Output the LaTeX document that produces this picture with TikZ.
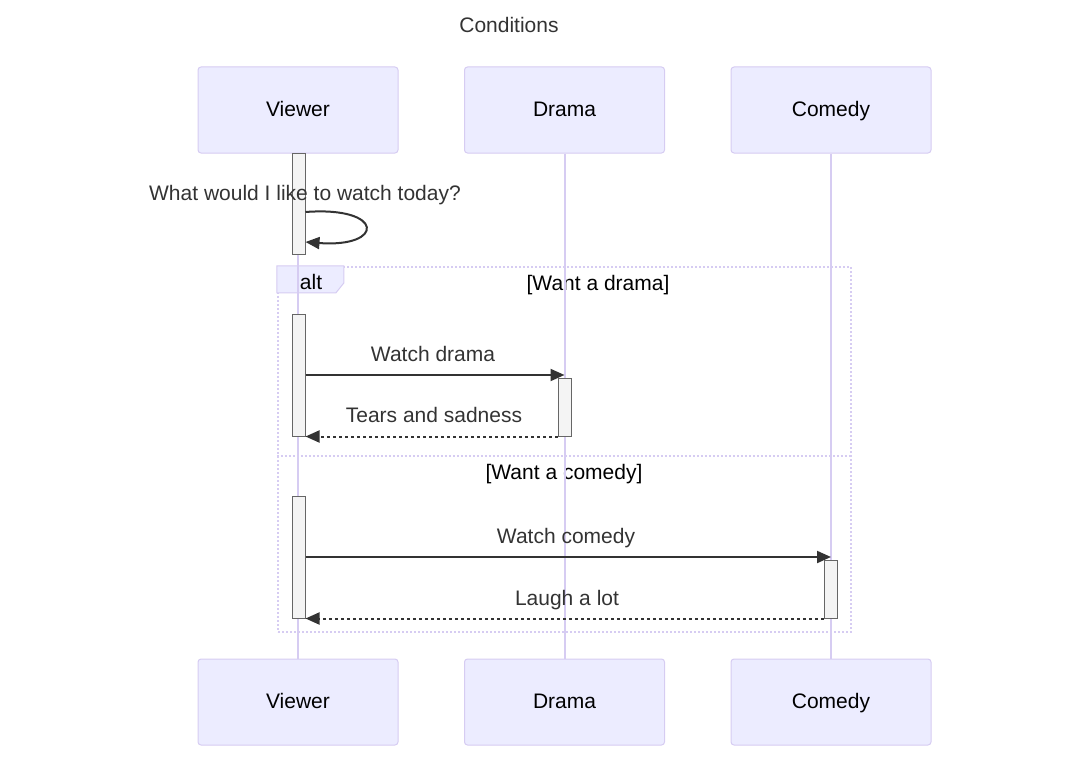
\documentclass[tikz,border=0pt]{standalone}
\usepackage{fontspec}
\setmainfont{Liberation Sans}
\usepackage{tikz}
\usetikzlibrary{arrows.meta,positioning,calc}

\definecolor{actfill}{HTML}{ECECFF}
\definecolor{actline}{HTML}{D6CCF2}
\definecolor{barfill}{HTML}{F4F4F4}
\definecolor{barline}{HTML}{666666}
\definecolor{msgcol}{HTML}{333333}
\newcommand{\seqfont}{\fontsize{21}{25}\selectfont}

\begin{document}
\begin{tikzpicture}[
    x=1pt, y=-1pt,
    actor/.style={rectangle, draw=actline, fill=actfill, rounded corners=3pt,
                  line width=1pt, minimum width=200pt, minimum height=86pt,
                  text height=15pt, text depth=2pt,
                  font=\seqfont, text=black},
    life/.style={draw=actline, line width=2pt},
    bar/.style={rectangle, draw=barline, fill=barfill, line width=1pt,
                minimum width=13pt, inner sep=0pt},
    msg/.style={draw=msgcol, line width=2pt,
                -{Triangle[length=14pt,width=12pt]}},
    reply/.style={msg, dash pattern=on 3pt off 3pt},
    altbox/.style={rectangle, draw=actline, line width=2.2pt,
                   dash pattern=on 2pt off 2pt, inner sep=0pt},
    altsep/.style={draw=actline, line width=2.2pt, dash pattern=on 2pt off 2pt},
    altlbl/.style={draw=actline, fill=actfill, line width=1pt},
    lbl/.style={font=\seqfont, text=msgcol, inner sep=0pt,
                text height=15pt, text depth=4pt},
    cond/.style={lbl, text=black},
  ]
  \useasboundingbox (0,0) rectangle (1074,760);

  % ===== Title =====
  \node[lbl] (title) at (509,27) {Conditions};

  % ===== Actors =====
  \node[actor] (vtop) at (298,110) {Viewer};
  \node[actor] (dtop) at (564.5,110) {Drama};
  \node[actor] (ctop) at (831,110) {Comedy};
  \node[actor] (vbot) at (298,702) {Viewer};
  \node[actor] (dbot) at (564.5,702) {Drama};
  \node[actor] (cbot) at (831,702) {Comedy};

  % ===== alt frame =====
  \node[altbox, minimum width=573pt, minimum height=365pt] (alt) at (564.5,449.5) {};
  \draw[altsep] (alt.west |- 0,456) -- (alt.east |- 0,456);
  \draw[altlbl] (alt.north west) -- ++(67,0) -- ++(0,17) -- ++(-8,10)
    -- ++(-59,0) -- cycle;
  \node[cond] (altname) at (311,284) {alt};
  \node[cond] (c1) at (598,285) {[Want a drama]};
  \node[cond] (c2) at (564,474) {[Want a comedy]};

  % ===== Lifelines =====
  \draw[life] (vtop) -- (vbot);
  \draw[life] (dtop) -- (dbot);
  \draw[life] (ctop) -- (cbot);

  % ===== Activations =====
  \node[bar, minimum height=101pt] (va1) at (298.5,203.5) {};
  \node[bar, minimum height=122pt] (va2) at (298.5,375) {};
  \node[bar, minimum height=58pt] (da1) at (564.5,407) {};
  \node[bar, minimum height=122pt] (va3) at (298.5,557) {};
  \node[bar, minimum height=58pt] (ca1) at (830.5,589) {};

  % ===== Messages =====
  \node[lbl] (m0) at (305,194.5) {What would I like to watch today?};
  \draw[msg] (va1.east |- 0,212) .. controls (385,206) and (385,248)
    .. (va1.east |- 0,242);

  \node[lbl] (m1) at (433,355.5) {Watch drama};
  \draw[msg] (va2.east |- 0,375) -- (dtop |- 0,375);

  \node[lbl] (m2) at (434,416.5) {Tears and sadness};
  \draw[reply] (da1.south west) -- (va2.south east);

  \node[lbl] (m3) at (566,537.5) {Watch comedy};
  \draw[msg] (va3.east |- 0,557) -- (ctop |- 0,557);

  \node[lbl] (m4) at (567,599.5) {Laugh a lot};
  \draw[reply] (ca1.south west) -- (va3.south east);

\end{tikzpicture}
\end{document}
